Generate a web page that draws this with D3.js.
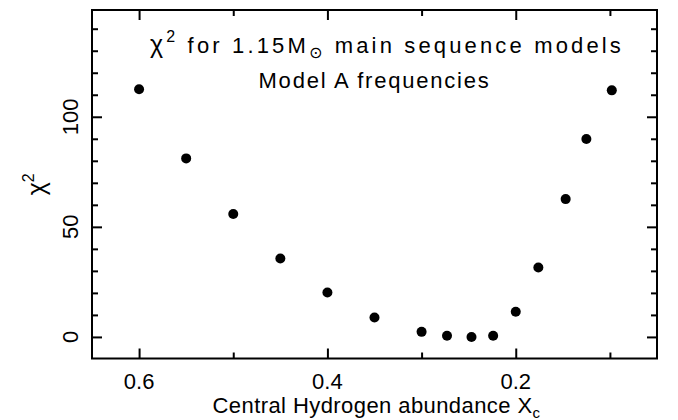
<!DOCTYPE html>
<html>
<head>
<meta charset="utf-8">
<script src="https://cdn.jsdelivr.net/npm/d3@7"></script>
<style>
  html, body { margin: 0; padding: 0; background: #fff; }
  svg { display: block; }
  text { font-family: "Liberation Sans", "DejaVu Sans", sans-serif; fill: #000; }
</style>
</head>
<body>
<svg id="chart" width="678" height="420"></svg>
<script>
// ---- data ----
const xcValues   = [0.600, 0.550, 0.500, 0.450, 0.400, 0.350, 0.300, 0.273, 0.247, 0.224, 0.200, 0.176, 0.147, 0.125, 0.098];
const chi2Values = [112.5, 81.1, 55.8, 35.6, 20.2, 8.8, 2.3, 0.5, 0.0, 0.5, 11.4, 31.5, 62.6, 89.9, 112.0];
const xMajorTicks = [0.6, 0.4, 0.2];
const xMinorTicks = [0.5, 0.3, 0.1];
const yMajorTicks = [0, 50, 100];
const yMinorTicks = [10, 20, 30, 40, 60, 70, 80, 90, 110, 120, 130, 140];
const xDomain = [0.65, 0.05];
const yDomain = [-9.8, 148.5];

// ---- layout ----
const padL = 92, padR = 657, padT = 10, padB = 358.5;
const svg = d3.select("#chart");

const x = d3.scaleLinear().domain(xDomain).range([padL, padR]);
const y = d3.scaleLinear().domain(yDomain).range([padB, padT]);

const majorLen = 10, minorLen = 6;

function axisGroup(axisFn, scale, ticks, len, transform) {
  const g = svg.append("g").attr("transform", transform)
    .call(axisFn(scale).tickValues(ticks).tickSize(-len).tickFormat(""));
  g.select(".domain").remove();
  g.selectAll(".tick line").attr("stroke", "#000").attr("stroke-width", 2);
  return g;
}
axisGroup(d3.axisBottom, x, xMajorTicks, majorLen, `translate(0,${padB})`);
axisGroup(d3.axisBottom, x, xMinorTicks, minorLen, `translate(0,${padB})`);
axisGroup(d3.axisTop, x, xMajorTicks, majorLen, `translate(0,${padT})`);
axisGroup(d3.axisTop, x, xMinorTicks, minorLen, `translate(0,${padT})`);
axisGroup(d3.axisLeft, y, yMajorTicks, majorLen, `translate(${padL},0)`);
axisGroup(d3.axisLeft, y, yMinorTicks, minorLen, `translate(${padL},0)`);
axisGroup(d3.axisRight, y, yMajorTicks, majorLen, `translate(${padR},0)`);
axisGroup(d3.axisRight, y, yMinorTicks, minorLen, `translate(${padR},0)`);

// frame
svg.append("rect")
  .attr("x", padL).attr("y", padT)
  .attr("width", padR - padL).attr("height", padB - padT)
  .attr("fill", "none").attr("stroke", "#000").attr("stroke-width", 2);

// tick labels
const fs = 22;
svg.append("g").selectAll("text").data(xMajorTicks).join("text")
  .attr("x", d => x(d)).attr("y", 389)
  .attr("text-anchor", "middle").attr("font-size", fs)
  .text(d => d3.format(".1f")(d));

svg.append("g").selectAll("text").data(yMajorTicks).join("text")
  .attr("transform", d => `translate(78,${y(d)}) rotate(-90)`)
  .attr("text-anchor", "middle").attr("font-size", fs)
  .text(d => d);

// helper: fit text to target width via letter-spacing
function fit(sel, width) {
  const node = sel.node();
  const len = node.getComputedTextLength();
  const n = node.textContent.length;
  if (n > 1) sel.attr("letter-spacing", ((width - len) / n).toFixed(2));
  return sel;
}

// axis titles
const xt = svg.append("text")
  .attr("x", (padL + padR) / 2 + 2).attr("y", 413)
  .attr("text-anchor", "middle").attr("font-size", fs);
xt.append("tspan").text("Central Hydrogen abundance X");
xt.append("tspan").attr("font-size", 15).attr("dy", 5).text("c");
fit(xt, 328);

const yt = svg.append("text")
  .attr("transform", `translate(45,${(padT + padB) / 2}) rotate(-90)`)
  .attr("text-anchor", "middle").attr("font-size", 25);
yt.append("tspan").text("χ");
yt.append("tspan").attr("font-size", 16).attr("dy", -11).text("2");

// in-plot titles
const t1 = svg.append("text")
  .attr("x", 387).attr("y", 53)
  .attr("text-anchor", "middle").attr("font-size", fs);
t1.append("tspan").attr("font-size", 25).text("χ");
t1.append("tspan").attr("font-size", 16).attr("dy", -11).text("2");
t1.append("tspan").attr("dy", 11).text(" for 1.15M");
t1.append("tspan").attr("font-size", 16).attr("dy", 5).text("⊙");
t1.append("tspan").attr("dy", -5).text(" main sequence models");
fit(t1, 474);

const t2 = svg.append("text")
  .attr("x", (padL + padR) / 2).attr("y", 88)
  .attr("text-anchor", "middle").attr("font-size", fs)
  .text("Model A frequencies");
fit(t2, 232);

// points
svg.append("g").selectAll("circle")
  .data(xcValues.map((v, i) => ({ xc: v, chi2: chi2Values[i] })))
  .join("circle")
  .attr("cx", d => x(d.xc)).attr("cy", d => y(d.chi2))
  .attr("r", 5).attr("fill", "#000");
</script>
</body>
</html>
